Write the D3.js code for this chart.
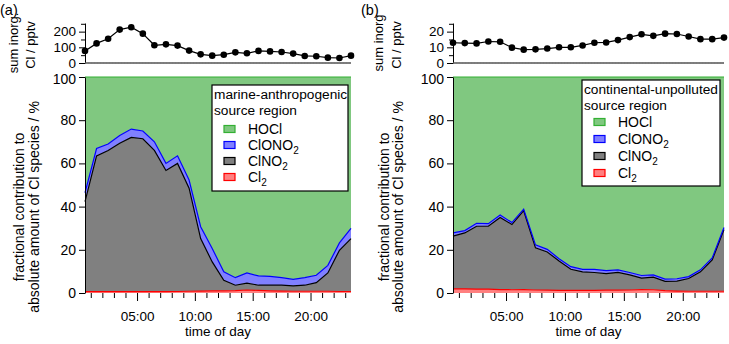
<!DOCTYPE html>
<html>
<head>
<meta charset="utf-8">
<script src="https://cdn.jsdelivr.net/npm/d3@7"></script>
<style>
  body { margin: 0; background: #fff; }
  svg text { font-family: "Liberation Sans", Arial, sans-serif; fill: #000; }
</style>
</head>
<body>
<div id="chart"></div>
<script>
// hour of day (bin centres)
var hours = [0.5, 1.5, 2.5, 3.5, 4.5, 5.5, 6.5, 7.5, 8.5, 9.5, 10.5, 11.5,
             12.5, 13.5, 14.5, 15.5, 16.5, 17.5, 18.5, 19.5, 20.5, 21.5, 22.5, 23.5];
var tickHours = [5, 10, 15, 20];
var tickLabels = ["05:00", "10:00", "15:00", "20:00"];

// (a) marine-anthropogenic
var sumClA = [77, 125, 155, 213, 228, 187, 113, 119, 111, 79, 55, 47,
              53, 68, 62, 77, 74, 70, 60, 45, 43, 34, 32, 47];
var cl2A = [0.6, 0.6, 0.6, 0.6, 0.6, 0.6, 0.6, 0.6, 0.7, 0.8, 0.9, 1.0,
            1.0, 1.1, 1.4, 1.2, 1.0, 0.9, 0.8, 0.8, 0.8, 0.8, 0.7, 0.7];
var clno2A = [41.7, 62.9, 65.4, 68.7, 71.4, 70.8, 65.4, 56.1, 59.3, 47.7, 24.3, 13.4,
              4.9, 2.5, 3.2, 2.4, 2.6, 2.7, 2.5, 2.8, 4.0, 8.5, 19.1, 24.5];
var clono2A = [4.1, 3.4, 3.0, 3.6, 3.9, 3.6, 4.0, 3.3, 3.5, 3.8, 5.5, 6.2,
               3.9, 3.5, 4.7, 4.3, 4.1, 3.5, 3.0, 3.5, 3.4, 3.5, 3.4, 4.7];
var hoclA = [53.6, 33.1, 31.0, 27.1, 24.1, 25.0, 30.0, 40.0, 36.5, 47.7, 69.3, 79.4,
             90.2, 92.9, 90.7, 92.1, 92.3, 92.9, 93.7, 92.9, 91.8, 87.2, 76.8, 70.1];

// (b) continental-unpolluted
var sumClB = [12.9, 12.7, 12.5, 13.7, 13.5, 9.8, 8.5, 8.7, 9.2, 10.0, 10.0, 11.2,
              12.9, 13.1, 14.6, 16.5, 18.3, 17.3, 18.7, 18.5, 16.9, 15.2, 15.2, 16.2];
var cl2B = [1.9, 1.9, 1.8, 1.8, 1.6, 1.5, 1.6, 1.4, 1.3, 1.2, 1.2, 1.2,
            1.2, 1.3, 1.3, 1.4, 1.6, 1.5, 1.1, 0.9, 0.8, 0.8, 0.8, 0.8];
var clno2B = [24.4, 25.9, 29.1, 29.1, 33.4, 30.2, 36.5, 19.5, 17.7, 13.6, 9.8, 8.6,
              8.3, 7.7, 8.2, 7.0, 5.3, 5.8, 4.3, 4.6, 5.9, 9.0, 14.5, 28.6];
var clono2B = [1.5, 1.1, 1.4, 1.2, 1.1, 0.9, 0.7, 1.4, 1.2, 1.1, 1.2, 1.1,
               1.4, 1.4, 1.2, 1.1, 1.2, 1.1, 1.0, 1.1, 0.9, 0.9, 0.9, 0.9];
var hoclB = [72.2, 71.1, 67.7, 67.9, 63.9, 67.4, 61.2, 77.7, 79.8, 84.1, 87.8, 89.1,
             89.1, 89.6, 89.3, 90.5, 91.9, 91.6, 93.6, 93.4, 92.4, 89.3, 83.8, 69.7];

var species = ["Cl2", "ClNO2", "ClONO2", "HOCl"];
var speciesFill = { HOCl: "#80c880", ClONO2: "#8080ff", ClNO2: "#808080", Cl2: "#ff8080" };
var speciesLine = { HOCl: "#33b033", ClONO2: "#0000ff", ClNO2: "#000000", Cl2: "#ff0000" };
// legend label: [main, subscript]
var speciesLabel = { HOCl: ["HOCl", ""], ClONO2: ["ClONO", "2"], ClNO2: ["ClNO", "2"], Cl2: ["Cl", "2"] };

var svg = d3.select("#chart").append("svg")
    .attr("width", 729)
    .attr("height", 344);

function drawPanel(p) {
    var g = svg.append("g");

    var x = d3.scaleLinear().domain([0.5, 23.5]).range([p.left, p.right]);
    var yTop = d3.scaleLinear().domain(p.sumDomain).range([63, 23]);
    var y = d3.scaleLinear().domain([0, 100]).range([293, 77]);

    // panel letter
    g.append("text").attr("x", p.letterX).attr("y", 15)
        .style("font-size", "14.5px").text(p.letter);

    // ---- top panel: sum of inorganic Cl
    g.append("line")
        .attr("x1", p.left).attr("x2", p.right)
        .attr("y1", yTop(0)).attr("y2", yTop(0))
        .attr("stroke", "#ddd").attr("stroke-dasharray", "1,2");

    var topAxis = d3.axisLeft(yTop)
        .tickValues(p.sumTicks)
        .tickSize(6).tickPadding(3).tickSizeOuter(0)
        .tickFormat(function (d) { return p.sumLabels.indexOf(d) >= 0 ? d : ""; });
    var ta = g.append("g").attr("transform", "translate(" + p.left + ",0)").call(topAxis);
    ta.selectAll(".tick line").attr("x2", function (d) { return p.sumLabels.indexOf(d) >= 0 ? -6 : -4; });
    ta.selectAll("text").style("font-size", "13.5px").attr("fill", "#000");
    ta.select(".domain").attr("stroke", "#000");

    g.append("line")
        .attr("x1", p.left).attr("x2", p.right)
        .attr("y1", yTop(0)).attr("y2", yTop(0))
        .attr("stroke", "#555").attr("stroke-width", 1.3);

    var sumLine = d3.line()
        .x(function (d, i) { return x(hours[i]); })
        .y(function (d) { return yTop(d); });
    g.append("path").datum(p.sum)
        .attr("d", sumLine)
        .attr("fill", "none").attr("stroke", "#000").attr("stroke-width", 1.2);
    g.selectAll(".dot").data(p.sum).enter().append("circle")
        .attr("cx", function (d, i) { return x(hours[i]); })
        .attr("cy", function (d) { return yTop(d); })
        .attr("r", 3.3).attr("fill", "#000");

    // top axis titles
    g.append("text")
        .attr("transform", "translate(" + p.topTitleX[0] + ",43) rotate(-90)")
        .attr("text-anchor", "middle").attr("dy", "0.35em")
        .style("font-size", "13px").text(p.topTitle[0]);
    g.append("text")
        .attr("transform", "translate(" + p.topTitleX[1] + ",45) rotate(-90)")
        .attr("text-anchor", "middle").attr("dy", "0.35em")
        .style("font-size", "13px").text(p.topTitle[1]);

    // ---- main panel: stacked fractions
    var rows = hours.map(function (h, i) {
        return { h: h, Cl2: p.cl2[i], ClNO2: p.clno2[i], ClONO2: p.clono2[i], HOCl: p.hocl[i] };
    });
    var stack = d3.stack().keys(species);
    var layers = stack(rows);

    var area = d3.area()
        .x(function (d) { return x(d.data.h); })
        .y0(function (d) { return y(d[0]); })
        .y1(function (d) { return y(Math.min(d[1], 100)); });
    var edge = d3.line()
        .x(function (d) { return x(d.data.h); })
        .y(function (d) { return y(Math.min(d[1], 100)); });

    g.selectAll(".layer").data(layers).enter().append("path")
        .attr("d", area)
        .attr("fill", function (d) { return speciesFill[d.key]; });
    g.selectAll(".edge").data(layers).enter().append("path")
        .attr("d", edge)
        .attr("fill", "none")
        .attr("stroke", function (d) { return speciesLine[d.key]; })
        .attr("stroke-width", 1.2);

    var yAxis = d3.axisLeft(y).tickValues([0, 20, 40, 60, 80, 100])
        .tickSize(6).tickPadding(3).tickSizeOuter(0);
    var ya = g.append("g").attr("transform", "translate(" + p.left + ",0)").call(yAxis);
    ya.selectAll("text").style("font-size", "14px").attr("fill", "#000");
    ya.select(".domain").attr("stroke", "#000");
    // nudge the "100" label down a little so it clears the top panel's "0"
    ya.selectAll(".tick text").attr("dy", function (d) { return d === 100 ? "0.45em" : "0.32em"; });

    var xAxis = d3.axisBottom(x)
        .tickValues(d3.range(1, 24))
        .tickSize(5).tickPadding(13).tickSizeOuter(0)
        .tickFormat(function (d) {
            var k = tickHours.indexOf(d);
            return k >= 0 ? tickLabels[k] : "";
        });
    var xa = g.append("g").attr("transform", "translate(0,293)").call(xAxis);
    xa.select(".domain").remove();
    xa.selectAll(".tick line").attr("y2", function (d) { return tickHours.indexOf(d) >= 0 ? 8 : 5; });
    xa.selectAll("text").style("font-size", "13.5px").attr("fill", "#000");

    g.append("text")
        .attr("x", (p.left + p.right) / 2).attr("y", 336)
        .attr("text-anchor", "middle")
        .style("font-size", "13.5px").text("time of day");

    g.append("text")
        .attr("transform", "translate(" + p.mainTitleX[0] + ",207) rotate(-90)")
        .attr("text-anchor", "middle").attr("dy", "0.35em")
        .style("font-size", "14px").text("fractional contribution to");
    g.append("text")
        .attr("transform", "translate(" + p.mainTitleX[1] + ",207) rotate(-90)")
        .attr("text-anchor", "middle").attr("dy", "0.35em")
        .style("font-size", "14px").text("absolute amount of Cl species / %");

    // ---- legend
    var lg = g.append("g").attr("transform", "translate(" + p.legend.x + "," + p.legend.y + ")");
    lg.append("rect")
        .attr("width", p.legend.w).attr("height", p.legend.h)
        .attr("fill", "#fff").attr("stroke", "#000").attr("stroke-width", 1.2);
    lg.append("text").attr("x", 2).attr("y", 14)
        .style("font-size", "13.7px").text(p.legend.title[0]);
    lg.append("text").attr("x", 2).attr("y", 30)
        .style("font-size", "13.7px").text(p.legend.title[1]);

    var order = ["HOCl", "ClONO2", "ClNO2", "Cl2"];
    var items = lg.selectAll(".item").data(order).enter().append("g")
        .attr("transform", function (d, i) { return "translate(0," + (p.legend.row0 + i * p.legend.step) + ")"; });
    items.append("rect")
        .attr("x", 12).attr("y", -3.5).attr("width", 11).attr("height", 7)
        .attr("fill", function (d) { return speciesFill[d]; })
        .attr("stroke", function (d) { return speciesLine[d]; })
        .attr("stroke-width", 1.2);
    var t = items.append("text").attr("x", 36).attr("y", 5)
        .style("font-size", "14px");
    t.append("tspan").text(function (d) { return speciesLabel[d][0]; });
    t.append("tspan").attr("dy", 4).style("font-size", "10px")
        .text(function (d) { return speciesLabel[d][1]; });
}

drawPanel({
    letter: "(a)", letterX: 0,
    left: 85, right: 351,
    sum: sumClA, sumDomain: [0, 255],
    sumTicks: [0, 50, 100, 150, 200, 250], sumLabels: [0, 100, 200],
    topTitle: ["sum inorg.", "Cl / pptv"], topTitleX: [13, 30],
    mainTitleX: [19, 34],
    cl2: cl2A, clno2: clno2A, clono2: clono2A, hocl: hoclA,
    legend: { x: 212, y: 85, w: 136, h: 106, row0: 44, step: 16,
              title: ["marine-anthropogenic", "source region"] }
});

drawPanel({
    letter: "(b)", letterX: 361,
    left: 453, right: 724,
    sum: sumClB, sumDomain: [0, 25.5],
    sumTicks: [0, 5, 10, 15, 20, 25], sumLabels: [0, 10, 20],
    topTitle: ["sum inorg", "Cl / pptv"], topTitleX: [378, 396],
    mainTitleX: [384, 398],
    cl2: cl2B, clno2: clno2B, clono2: clono2B, hocl: hoclB,
    legend: { x: 582, y: 80, w: 138, h: 106, row0: 42, step: 17,
              title: ["continental-unpolluted", "source region"] }
});
</script>
</body>
</html>
